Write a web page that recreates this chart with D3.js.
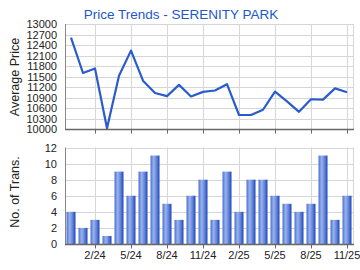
<!DOCTYPE html>
<html>
<head>
<meta charset="utf-8">
<script src="https://cdn.jsdelivr.net/npm/d3@7"></script>
<style>
  body { margin: 0; background: #fff; }
  text { font-family: "Liberation Sans", Arial, sans-serif; }
</style>
</head>
<body>
<script>
// months shown on the x axis, one bar / point each
var months = ["12/23", "1/24", "2/24", "3/24", "4/24", "5/24", "6/24", "7/24", "8/24", "9/24", "10/24", "11/24",
              "12/24", "1/25", "2/25", "3/25", "4/25", "5/25", "6/25", "7/25", "8/25", "9/25", "10/25", "11/25"];
var avgPrice = [12610, 11600, 11730, 10020, 11520, 12240, 11380, 11030, 10940, 11260, 10930, 11060,
                11100, 11280, 10400, 10400, 10550, 11070, 10790, 10490, 10850, 10840, 11160, 11050];
var transCount = [4, 2, 3, 1, 9, 6, 9, 11, 5, 3, 6, 8, 3, 9, 4, 8, 8, 6, 5, 4, 5, 11, 3, 6];
var tickMonths = ["2/24", "5/24", "8/24", "11/24", "2/25", "5/25", "8/25", "11/25"];
var priceTicks = [10000, 10300, 10600, 10900, 11200, 11500, 11800, 12100, 12400, 12700, 13000];
var countTicks = [0, 2, 4, 6, 8, 10, 12];

var W = 360, H = 270;
var left = 65, right = 353;
var top1 = 24, bot1 = 129;   // price panel
var top2 = 147.5, bot2 = 244; // transactions panel

var svg = d3.select("body").append("svg").attr("width", W).attr("height", H);

var x = d3.scaleBand().domain(months).range([left, right]).paddingInner(0.25).paddingOuter(0.125);
var xc = function (m) { return x(m) + x.bandwidth() / 2; };

var yP = d3.scaleLinear().domain([10000, 13000]).range([bot1, top1]);
var yC = d3.scaleLinear().domain([0, 12]).range([bot2, top2]);

// gradient for bars
var grad = svg.append("defs").append("linearGradient").attr("id", "bar").attr("x1", 0).attr("x2", 1);
grad.append("stop").attr("offset", "0%").attr("stop-color", "#4a6fd0");
grad.append("stop").attr("offset", "35%").attr("stop-color", "#9ab2ec");
grad.append("stop").attr("offset", "70%").attr("stop-color", "#5d80da");
grad.append("stop").attr("offset", "100%").attr("stop-color", "#1e45b5");

function grid(yScale, ticks, yTop, yBot) {
    var g = svg.append("g").attr("stroke", "#d6d6d6").attr("stroke-width", 1);
    g.selectAll("line.h").data(ticks).enter().append("line")
        .attr("x1", left).attr("x2", right)
        .attr("y1", function (d) { return Math.round(yScale(d)) + 0.5; })
        .attr("y2", function (d) { return Math.round(yScale(d)) + 0.5; });
    g.selectAll("line.v").data(tickMonths).enter().append("line")
        .attr("x1", function (d) { return Math.round(xc(d)) + 0.5; })
        .attr("x2", function (d) { return Math.round(xc(d)) + 0.5; })
        .attr("y1", yTop).attr("y2", yBot);
    g.append("line").attr("x1", right + 0.5).attr("x2", right + 0.5).attr("y1", yTop).attr("y2", yBot);
}

function axes(yScale, ticks, yTop, yBot, showLabels) {
    var gy = svg.append("g").attr("transform", "translate(" + left + ",0)")
        .call(d3.axisLeft(yScale).tickValues(ticks).tickSize(0).tickPadding(8).tickFormat(d3.format("d")));
    gy.select(".domain").attr("stroke", "#888").attr("d", "M0.5," + yTop + "V" + yBot);
    gy.selectAll("text").attr("font-size", 11).attr("fill", "#222")
        .attr("font-family", "'Liberation Sans', Arial, sans-serif");

    var gx = svg.append("g").attr("transform", "translate(0," + (Math.round(yBot) + 0.5) + ")");
    gx.call(d3.axisBottom(x).tickValues(tickMonths).tickSize(4).tickPadding(3)
        .tickFormat(showLabels ? null : function () { return ""; }));
    gx.select(".domain").attr("stroke", "#666").attr("stroke-width", 1.5).attr("d", "M" + left + ",0H" + (right + 1));
    gx.selectAll(".tick line").attr("stroke", "#666").attr("transform", "translate(0.5,0)");
    gx.selectAll("text").attr("font-size", 11).attr("fill", "#222")
        .attr("font-family", "'Liberation Sans', Arial, sans-serif");
}

// price panel
grid(yP, priceTicks, top1, bot1);
svg.append("path").datum(avgPrice)
    .attr("fill", "none").attr("stroke", "#2a5ccc").attr("stroke-width", 2.2)
    .attr("stroke-linejoin", "round")
    .attr("d", d3.line().x(function (d, i) { return xc(months[i]); }).y(function (d) { return yP(d); }));
axes(yP, priceTicks, top1, bot1, false);

// transactions panel
grid(yC, countTicks, top2, bot2);
svg.append("g").selectAll("rect").data(transCount).enter().append("rect")
    .attr("x", function (d, i) { return x(months[i]); })
    .attr("width", x.bandwidth())
    .attr("y", function (d) { return yC(d); })
    .attr("height", function (d) { return yC(0) - yC(d); })
    .attr("fill", "url(#bar)");
axes(yC, countTicks, top2, bot2, true);

// titles
svg.append("text").attr("x", 181).attr("y", 19).attr("text-anchor", "middle")
    .attr("font-size", 13.5).attr("fill", "#2158c8").text("Price Trends - SERENITY PARK");
svg.append("text").attr("transform", "translate(19,77) rotate(-90)").attr("text-anchor", "middle")
    .attr("font-size", 12.5).attr("fill", "#222").text("Average Price");
svg.append("text").attr("transform", "translate(19,192) rotate(-90)").attr("text-anchor", "middle")
    .attr("font-size", 12.5).attr("fill", "#222").text("No. of Trans.");
</script>
</body>
</html>
